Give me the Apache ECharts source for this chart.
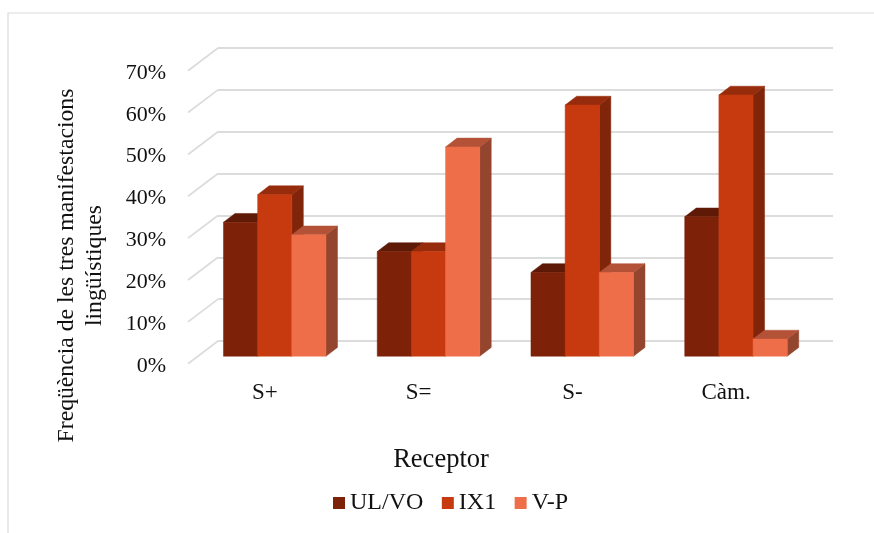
<!DOCTYPE html>
<html>
<head>
<meta charset="utf-8">
<style>html,body{margin:0;padding:0;background:#fff}#chart{width:874px;height:533px}</style>
<script src="https://cdn.jsdelivr.net/npm/echarts@6/dist/echarts.min.js"></script>
</head>
<body>
<div id="chart"></div>
<script>
// Values, in percent
const categories = ['S+', 'S=', 'S-', 'Càm.'];
const ulVo = [32, 25, 20, 33.3];
const ix1 = [38.6, 25, 60, 62.4];
const vP = [29, 50, 20, 4.1];
const yTicks = [0, 10, 20, 30, 40, 50, 60, 70];

const FONT = '"Liberation Serif", serif';
const TEXT = '#111';

// Oblique projection used for the box drawing
const WALL = [30, -22.7];      // floor front edge to back wall
const DEPTH = [11.5, -8.8];    // depth of one bar
const BAR_SHARE = 1 / 4.5;     // three bars plus a 150% gap in each band

const faces = [
  { front: '#7e2109', top: '#5f1a07', side: '#641a07' },
  { front: '#c73a0f', top: '#962c0c', side: '#80250a' },
  { front: '#ef6e4a', top: '#b35237', side: '#94452e' }
];

function poly(points, fill) {
  return { type: 'polygon', shape: { points }, style: { fill, stroke: fill, lineWidth: 0.5 } };
}

function boxSeries(name, values, idx) {
  return {
    name,
    type: 'custom',
    xAxisIndex: 2,
    yAxisIndex: 2,
    itemStyle: { color: faces[idx].front },
    data: values.map((v, i) => [i, v]),
    encode: { x: 0, y: 1 },
    z: 3,
    renderItem(params, api) {
      const cat = api.value(0);
      const base = api.coord([cat, 0]);
      const tip = api.coord([cat, api.value(1)]);
      const w = api.size([1, 0])[0] * BAR_SHARE;
      const x0 = base[0] - 1.5 * w + idx * w;
      const x1 = x0 + w;
      const [dx, dy] = DEPTH;
      const f = faces[idx];
      return {
        type: 'group',
        children: [
          poly([[x1, base[1]], [x1 + dx, base[1] + dy], [x1 + dx, tip[1] + dy], [x1, tip[1]]], f.side),
          poly([[x0, tip[1]], [x0 + dx, tip[1] + dy], [x1 + dx, tip[1] + dy], [x1, tip[1]]], f.top),
          poly([[x0, base[1]], [x1, base[1]], [x1, tip[1]], [x0, tip[1]]], f.front)
        ]
      };
    }
  };
}

const axisOff = { show: false };

const option = {
  backgroundColor: '#fff',
  animation: false,
  textStyle: { fontFamily: FONT, color: TEXT },
  // 0: back wall, 1: plane holding the axis labels, 2: plane of the bar fronts
  grid: [
    { left: 218, top: 48, width: 615, height: 293 },
    { left: 188, top: 73, width: 615, height: 293 },
    { left: 197.85, top: 63.2, width: 615, height: 293 }
  ],
  xAxis: [
    { gridIndex: 0, type: 'category', data: categories, ...axisOff },
    {
      gridIndex: 1, type: 'category', data: categories,
      axisLine: { show: false }, axisTick: { show: false },
      axisLabel: { fontFamily: FONT, fontSize: 23, color: TEXT, margin: 15 }
    },
    { gridIndex: 2, type: 'category', data: categories, ...axisOff }
  ],
  yAxis: [
    {
      gridIndex: 0, type: 'value', min: 0, max: 70, interval: 10,
      axisLine: { show: false }, axisTick: { show: false }, axisLabel: { show: false },
      splitLine: { show: true, lineStyle: { color: '#dcdcdc', width: 1.8 } }
    },
    {
      gridIndex: 1, type: 'value', min: 0, max: 70, interval: 10,
      axisLine: { show: false }, axisTick: { show: false }, splitLine: { show: false },
      axisLabel: { fontFamily: FONT, fontSize: 22, color: TEXT, margin: 22, formatter: '{value}%' }
    },
    { gridIndex: 2, type: 'value', min: 0, max: 70, interval: 10, ...axisOff }
  ],
  legend: {
    data: ['UL/VO', 'IX1', 'V-P'],
    left: 328,
    top: 486,
    icon: 'rect',
    itemWidth: 12,
    itemHeight: 12,
    itemGap: 18.5,
    textStyle: { fontFamily: FONT, fontSize: 24, color: TEXT }
  },
  graphic: [
    {
      type: 'polyline',
      shape: { points: [[8, 533], [8, 13], [874, 13]] },
      style: { stroke: '#d9d9d9', lineWidth: 1.2, fill: null }
    },
    {
      type: 'text', x: 441, y: 460,
      style: { text: 'Receptor', font: '26.5px ' + FONT, fill: TEXT, textAlign: 'center', textVerticalAlign: 'middle' }
    },
    {
      type: 'text', x: 67, y: 265.5, rotation: Math.PI / 2,
      style: { text: 'Freqüència de les tres manifestacions', font: '23.7px ' + FONT, fill: TEXT, textAlign: 'center', textVerticalAlign: 'middle' }
    },
    {
      type: 'text', x: 95, y: 265.5, rotation: Math.PI / 2,
      style: { text: 'lingüístiques', font: '23.7px ' + FONT, fill: TEXT, textAlign: 'center', textVerticalAlign: 'middle' }
    }
  ],
  series: [
    {
      // Side wall: slanted gridlines running forward from the back wall
      type: 'custom',
      xAxisIndex: 0,
      yAxisIndex: 0,
      silent: true,
      data: yTicks.map(t => [0, t]),
      encode: { y: 1 },
      z: 1,
      renderItem(params, api) {
        const p = api.coord([0, api.value(1)]);
        const x = params.coordSys.x;
        return {
          type: 'line',
          shape: { x1: x, y1: p[1], x2: x - WALL[0], y2: p[1] - WALL[1] },
          style: { stroke: '#dcdcdc', lineWidth: 1.8 }
        };
      }
    },
    boxSeries('UL/VO', ulVo, 0),
    boxSeries('IX1', ix1, 1),
    boxSeries('V-P', vP, 2)
  ]
};

echarts.init(document.getElementById('chart'), null, { renderer: 'canvas' }).setOption(option);
</script>
</body>
</html>
